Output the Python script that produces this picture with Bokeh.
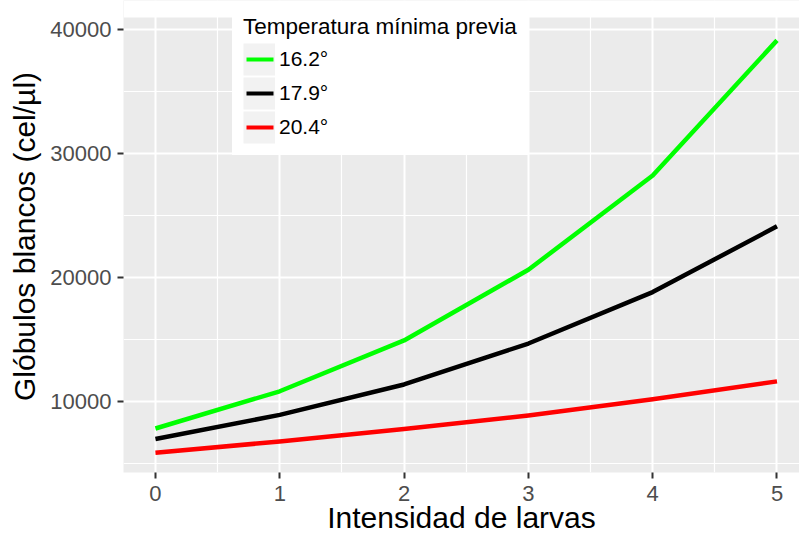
from bokeh.plotting import figure
from bokeh.models import ColumnDataSource, Range1d, FixedTicker, Legend, LegendItem, BoxAnnotation
from bokeh.embed import file_html
from bokeh.resources import INLINE

# Predicted white blood cell counts by larval intensity, one curve per previous minimum temperature
intensidad = [0, 1, 2, 3, 4, 5]
temperaturas = ["16.2°", "17.9°", "20.4°"]
globulos_16_2 = [7800, 10800, 14900, 20600, 28200, 39100]
globulos_17_9 = [6950, 8900, 11350, 14650, 18800, 24100]
globulos_20_4 = [5850, 6750, 7750, 8850, 10150, 11600]
colores = ["#00FF00", "#000000", "#FF0000"]

x_ticks = [0, 1, 2, 3, 4, 5]
x_minor = [0.5, 1.5, 2.5, 3.5, 4.5]
y_ticks = [10000, 20000, 30000, 40000]
y_minor = [5000, 15000, 25000, 35000]

# panel limits; the frame reaches the top of the canvas so the legend may
# overlap the white margin above the grey panel
Y_LOW, PANEL_TOP, FRAME_TOP = 4250, 40944, 42315

FONT = "Liberation Sans"
NAN = float("nan")

source = ColumnDataSource(data=dict(
    intensidad=intensidad,
    t16=globulos_16_2,
    t17=globulos_17_9,
    t20=globulos_20_4,
))

p = figure(
    width=799, height=537,
    output_backend="svg", toolbar_location=None,
    x_range=Range1d(-0.257, 5.181), y_range=Range1d(Y_LOW, FRAME_TOP),
    min_border_left=123, min_border_right=0, min_border_top=0, min_border_bottom=65,
)

p.background_fill_color = "#EBEBEB"
p.border_fill_color = "white"
p.outline_line_color = None

# grid
p.grid.grid_line_color = "white"
p.grid.grid_line_width = 2
p.grid.minor_grid_line_color = "white"
p.grid.minor_grid_line_width = 1.2

# white margin above the panel
p.add_layout(BoxAnnotation(bottom=PANEL_TOP, fill_color="white", fill_alpha=1.0, line_color=None))

# axes
p.xaxis.ticker = FixedTicker(ticks=x_ticks, minor_ticks=x_minor)
p.yaxis.ticker = FixedTicker(ticks=y_ticks, minor_ticks=y_minor)
p.xaxis.axis_label = "Intensidad de larvas"
p.yaxis.axis_label = "Glóbulos blancos (cel/µl)"
for ax in (p.xaxis, p.yaxis):
    ax.axis_line_color = None
    ax.major_tick_line_color = "#333333"
    ax.major_tick_line_width = 2
    ax.major_tick_out = 6
    ax.major_tick_in = 0
    ax.minor_tick_line_color = None
    ax.major_label_text_font = FONT
    ax.major_label_text_font_size = "22px"
    ax.major_label_text_color = "#4D4D4D"
    ax.axis_label_text_font = FONT
    ax.axis_label_text_font_size = "30px"
    ax.axis_label_text_font_style = "normal"
    ax.axis_label_text_color = "#000000"
p.xaxis.major_label_standoff = 7
p.xaxis.axis_label_standoff = -3
p.yaxis.major_label_standoff = 6
p.yaxis.axis_label_standoff = 6

# curves
for col, c in zip(["t16", "t17", "t20"], colores):
    p.line("intensidad", col, source=source, line_color=c, line_width=4.5, line_join="round")

# legend: grey key square behind a short coloured stroke
items = []
for lab, c in zip(temperaturas, colores):
    key_bg = p.line([NAN], [NAN], line_color="#F2F2F2", line_width=32)
    key_line = p.line([NAN], [NAN], line_color=c, line_width=4, line_dash="0 3 27 100")
    items.append(LegendItem(label=lab, renderers=[key_bg, key_line]))

legend = Legend(
    items=items,
    location=(109, 317),
    title="Temperatura mínima previa",
    title_text_font=FONT, title_text_font_size="22.5px",
    title_text_font_style="normal", title_text_color="#000000",
    title_standoff=2,
    label_text_font=FONT, label_text_font_size="21px", label_text_color="#000000",
    glyph_width=32, glyph_height=34, label_standoff=4,
    spacing=0, padding=10,
    background_fill_color="white", background_fill_alpha=1.0,
    border_line_color="white", border_line_width=1,
)
p.add_layout(legend, "center")

open("out.html", "w").write(file_html(p, INLINE))
